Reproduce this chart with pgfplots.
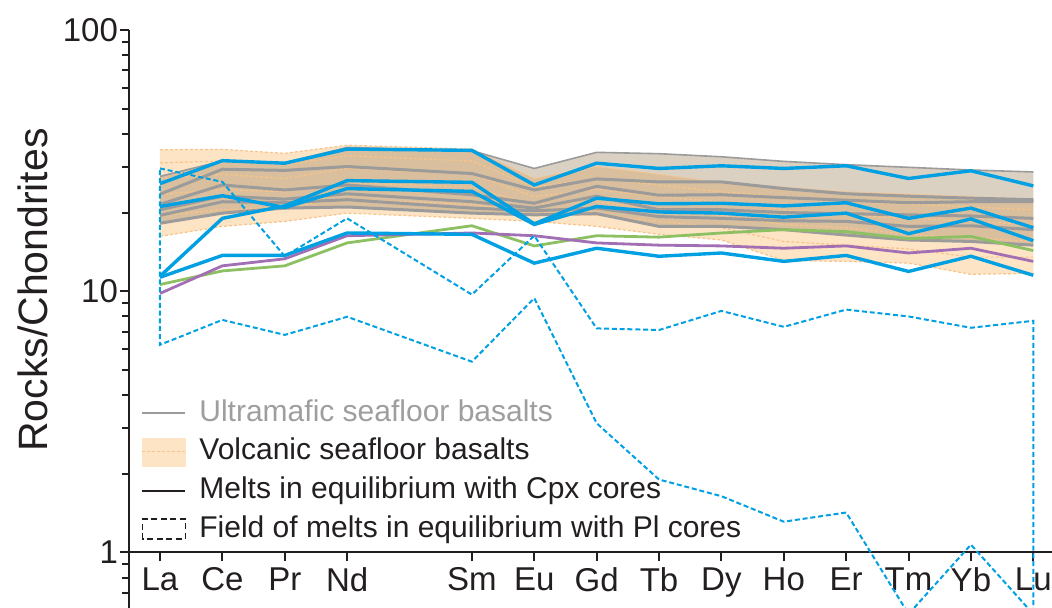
\documentclass[border=0pt]{standalone}
\usepackage{pgfplots}
\pgfplotsset{compat=1.18}
\usepgfplotslibrary{fillbetween}
\usepackage{pgfplotstable}
\usepackage{fontspec}
\setmainfont{Liberation Sans}

\definecolor{ink}{HTML}{231F20}
\definecolor{ugray}{HTML}{9B9B9B}
\definecolor{legendgray}{HTML}{9E9E9E}
\definecolor{ofill}{HTML}{FDE4C4}
\definecolor{oline}{HTML}{F7C48C}
\definecolor{ufill}{HTML}{A08560}
\definecolor{cpx}{HTML}{00A0E3}
\definecolor{grn}{HTML}{8DC063}
\definecolor{pur}{HTML}{A36FB4}

% REE patterns normalised to chondrite; x = position in the REE sequence (Pm = 4 omitted)
\pgfplotstableread{
x  g1   g2   g3   g4   g5   g6   otop obot o2   o3   o4   o5   b1   b2   b3   b4   grn  pur
0  27.5 23.5 21.5 20.5 19.5 18.2 34.8 16.2 31.0 27.0 23.5 19.5 25.8 21.1 11.4 11.3 10.6 9.8
1  31.5 29.3 25.5 23.1 22.0 19.9 34.9 17.7 31.5 28.0 24.5 20.5 31.6 23.2 19.0 13.7 11.95 12.5
2  31.0 29.0 24.4 22.5 21.8 20.8 33.7 18.5 30.5 27.0 24.0 21.0 30.9 20.9 21.2 13.7 12.5 13.3
3  35.5 30.0 25.5 23.6 22.4 21.0 36.2 19.9 33.0 29.5 26.0 22.5 35.0 24.7 26.5 16.7 15.3 16.3
5  34.5 28.2 23.4 22.0 20.8 19.9 35.0 19.0 31.5 28.0 25.0 21.5 34.6 24.1 26.1 16.5 17.8 16.7
6  29.5 24.4 21.7 20.8 20.3 19.6 27.0 18.5 25.0 23.0 21.5 20.0 25.5 18.0 18.1 12.8 14.9 16.3
7  34.0 26.9 25.2 23.1 20.8 19.8 30.0 17.7 27.0 24.5 22.0 19.5 30.9 21.1 22.7 14.6 16.3 15.3
8  33.6 26.2 23.3 20.5 19.3 17.7 28.0 16.5 25.5 23.0 20.5 18.5 29.5 20.1 21.6 13.6 16.1 15.0
9  32.7 26.2 23.4 20.5 19.0 17.7 26.0 15.7 24.0 22.0 19.5 17.5 30.2 19.9 21.7 14.0 16.7 14.9
10 31.4 24.7 22.8 20.0 18.6 17.2 25.0 13.1 23.0 20.5 18.0 15.5 29.5 19.2 21.2 13.0 17.2 14.6
11 30.5 23.6 22.3 19.8 18.5 16.4 24.0 13.0 22.0 19.5 17.5 15.0 30.2 19.9 21.8 13.7 16.9 14.9
12 29.8 23.1 21.8 19.6 17.7 15.7 23.5 12.8 21.5 19.0 16.5 14.5 27.0 16.6 19.0 11.9 15.9 14.0
13 29.1 22.7 22.0 19.4 17.8 15.5 23.0 11.6 21.0 18.5 16.0 13.5 28.9 18.9 20.8 13.6 16.2 14.6
14 28.6 22.4 22.0 19.0 17.2 15.0 22.5 11.7 20.5 18.0 15.5 13.5 25.3 15.6 17.5 11.5 14.3 13.0
}\ree

\begin{document}
\begin{tikzpicture}
\begin{axis}[
  scale only axis, width=461.35pt, height=289pt,
  ymode=log, xmin=-0.492, xmax=14.30, ymin=0.612, ymax=100,
  axis x line*=middle, axis y line*=left,
  axis line style={ink, line width=1pt},
  xtick={0,1,2,3,5,6,7,8,9,10,11,12,13,14},
  xticklabels={La,Ce,Pr,Nd,Sm,Eu,Gd,Tb,Dy,Ho,Er,Tm,Yb,Lu},
  ytick={1,10,100}, yticklabels={{1},{10},{100}},
  minor ytick={0.7,0.8,0.9,2,3,4,5,6,7,8,9,20,30,40,50,60,70,80,90},
  tick align=outside,
  major tick length=4.5pt, minor tick length=3.5pt,
  every tick/.style={ink, line width=1pt},
  tick label style={font=\fontsize{16.5pt}{19pt}\selectfont, text=ink},
  xticklabel style={inner sep=0pt, yshift=-3pt},
  yticklabel style={inner sep=0pt, xshift=-1pt},
  /pgf/number format/assume math mode=true,
  ylabel={Rocks/Chondrites},
  every axis y label/.style={at={(axis description cs:-0.1044,0.55)}, rotate=90, anchor=center,
    font=\fontsize{20.5pt}{24pt}\selectfont, text=ink},
  legend style={at={(axis description cs:0.0127,0.362)}, anchor=north west,
    draw=none, fill=none, inner sep=0pt, row sep=5.2pt,
    /tikz/every odd column/.append style={column sep=6.5pt},
    font=\fontsize{15pt}{18pt}\selectfont, text=ink,
    nodes={inner sep=0pt, text height=11pt, text depth=3pt}},
  legend cell align=left,
]
% volcanic seafloor basalts: field and individual samples
\addplot[name path=otop, draw=none, forget plot] table[x=x, y=otop]{\ree};
\addplot[name path=obot, draw=none, forget plot] table[x=x, y=obot]{\ree};
\addplot[fill=ofill, draw=none, forget plot] fill between[of=otop and obot];
\foreach \c in {otop,o2,o3,o4,o5,obot}{
  \addplot[oline, line width=0.6pt, dash pattern=on 1.5pt off 1pt, forget plot] table[x=x, y=\c]{\ree};
}

% ultramafic seafloor basalts: envelope and samples
\addplot[name path=ga, draw=none, forget plot] table[x=x, y=g1]{\ree};
\addplot[name path=gb, draw=none, forget plot] table[x=x, y=g6]{\ree};
\addplot[fill=ufill, fill opacity=0.38, draw=none, forget plot] fill between[of=ga and gb];
\addplot[ugray, line width=0.8pt, forget plot] table[x=x, y=g1]{\ree};
\foreach \c in {g2,g3,g4,g5,g6}{
  \addplot[ugray, line width=1.5pt, forget plot] table[x=x, y=\c]{\ree};
}

% whole-rock reference patterns
\addplot[grn, line width=1.4pt, forget plot] table[x=x, y=grn]{\ree};
\addplot[pur, line width=1.4pt, forget plot] table[x=x, y=pur]{\ree};

% melts in equilibrium with Cpx cores
\foreach \c in {b1,b2,b3,b4}{
  \addplot[cpx, line width=1.7pt, forget plot] table[x=x, y=\c]{\ree};
}

% field of melts in equilibrium with Pl cores
\addplot[cpx, line width=1pt, dash pattern=on 2.5pt off 1.4pt, forget plot] coordinates {
  (0,29.5) (1,26.2) (2,13.6) (3,19.0) (5,9.7) (6,16.3) (7,7.2) (8,7.1) (9,8.4)
  (10,7.3) (11,8.5) (12,8.0) (13,7.24) (14,7.7)
  (14,0.58) (13,1.07) (12,0.58) (11,1.42) (10,1.31) (9,1.64) (8,1.90) (7,3.12)
  (6,9.4) (5,5.37) (3,7.98) (2,6.8) (1,7.76) (0,6.23) (0,29.5)
};

\addlegendimage{legend image code/.code={\draw[ugray, line width=1pt] (0pt,0pt) -- (21.5pt,0pt);}}
\addlegendentry{\textcolor{legendgray}{Ultramafic seafloor basalts}}
\addlegendimage{legend image code/.code={\fill[ofill] (0pt,-7pt) rectangle (21.5pt,7pt);
  \draw[oline, line width=0.5pt, dash pattern=on 1.5pt off 1pt] (0pt,0pt) -- (21.5pt,0pt);}}
\addlegendentry{Volcanic seafloor basalts}
\addlegendimage{legend image code/.code={\draw[ink, line width=1pt] (0pt,0pt) -- (21.5pt,0pt);}}
\addlegendentry{Melts in equilibrium with Cpx cores}
\addlegendimage{legend image code/.code={\draw[ink, line width=0.7pt, dash pattern=on 3pt off 1.8pt] (0pt,-5pt) rectangle (21.5pt,5pt);}}
\addlegendentry{Field of melts in equilibrium with Pl cores}
\end{axis}
\pgfresetboundingbox
\path[use as bounding box] ([xshift=-64.65pt]current axis.south west) rectangle ([yshift=15pt]current axis.north east);
\end{tikzpicture}
\end{document}
